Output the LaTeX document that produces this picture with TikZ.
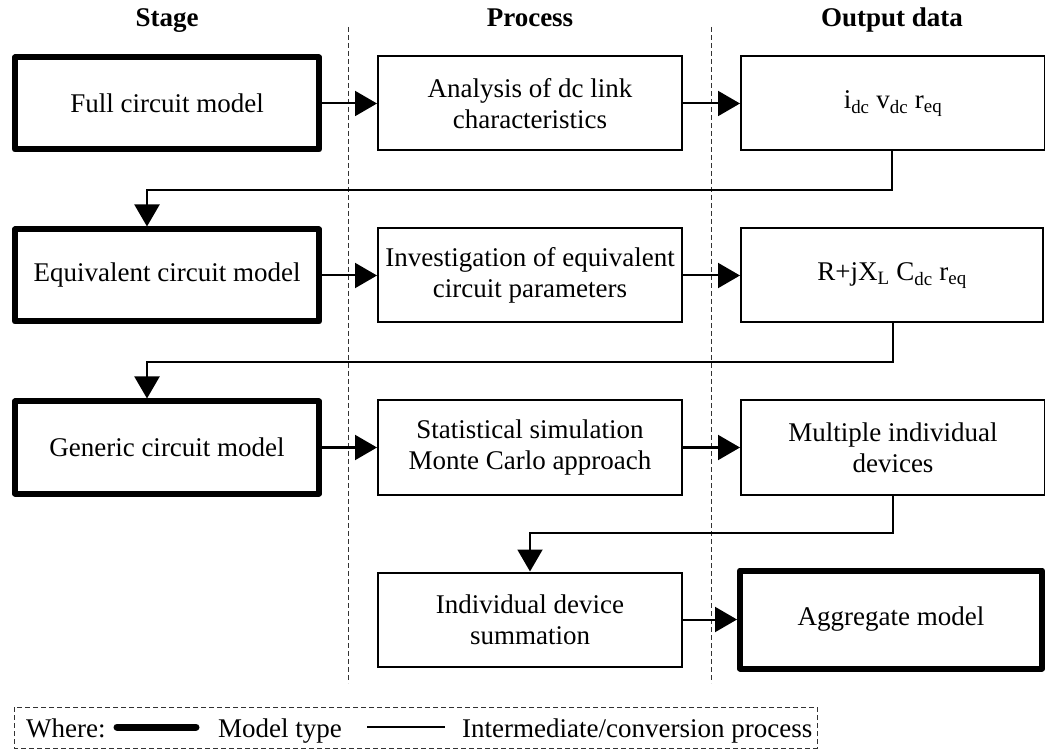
\documentclass[tikz,border=0pt]{standalone}
\usepackage{fontspec}
\setmainfont{Liberation Serif}
\usetikzlibrary{arrows.meta}
\begin{document}
\begin{tikzpicture}[x=1pt,y=-1pt,
  every node/.style={font=\fontsize{27}{31}\selectfont, align=center, inner sep=0pt},
  thickbox/.style={draw, line width=6pt, line join=round, minimum width=304pt, minimum height=92pt},
  thinbox/.style={draw, line width=2pt, minimum width=304pt, minimum height=94pt},
  hdr/.style={font=\fontsize{27}{31}\selectfont\bfseries, anchor=base},
  conn/.style={line width=2pt, -{Triangle[length=22pt,width=25pt]}},
  sepline/.style={draw=black!80, line width=1pt, dash pattern=on 5pt off 3pt},
  legtext/.style={anchor=base west}
]
\useasboundingbox (0,0) rectangle (1045,751);

% headers
\node[hdr] (hstage) at (167,27) {Stage};
\node[hdr] (hproc) at (530,27) {Process};
\node[hdr] (hout) at (892,27) {Output data};

% column separators
\coordinate (s1t) at (348,27); \coordinate (s1b) at (348,683);
\coordinate (s2t) at (711,27); \coordinate (s2b) at (711,683);
\draw[sepline] (s1t) -- (s1b);
\draw[sepline] (s2t) -- (s2b);

% row 1
\node[thickbox] (r1c1) at (167,103.5) {Full circuit model};
\node[thinbox] (r1c2) at (530,103.5) {Analysis of dc link\\characteristics};
\node[thinbox] (r1c3) at (893,103.5) {i\textsubscript{dc} v\textsubscript{dc} r\textsubscript{eq}};

% row 2
\node[thickbox] (r2c1) at (167,275.5) {Equivalent circuit model};
\node[thinbox] (r2c2) at (530,275.5) {Investigation of equivalent\\circuit parameters};
\node[thinbox, minimum width=302pt] (r2c3) at (892,275.5) {R+jX\textsubscript{L} C\textsubscript{dc} r\textsubscript{eq}};

% row 3
\node[thickbox] (r3c1) at (167,447.5) {Generic circuit model};
\node[thinbox] (r3c2) at (530,447.5) {Statistical simulation\\Monte Carlo approach};
\node[thinbox] (r3c3) at (893,447.5) {Multiple individual\\devices};

% row 4
\node[thinbox] (r4c2) at (530,619.5) {Individual device\\summation};
\node[thickbox, minimum width=302pt, minimum height=98pt] (r4c3) at (891,619.5) {Aggregate model};

% horizontal arrows
\draw[conn] (r1c1.east) -- (r1c2.west);
\draw[conn] (r1c2.east) -- (r1c3.west);
\draw[conn] (r2c1.east) -- (r2c2.west);
\draw[conn] (r2c2.east) -- (r2c3.west);
\draw[conn] (r3c1.east) -- (r3c2.west);
\draw[conn] (r3c2.east) -- (r3c3.west);
\draw[conn] (r4c2.east) -- (r4c3.west);

% return connectors
\coordinate (j1) at (892,190);
\coordinate (j2) at (893,362);
\coordinate (j3) at (893,533);
\coordinate (k1) at (147,0);
\draw[conn] (r1c3.south -| j1) -- (j1) -| (k1 |- r2c1.north);
\draw[conn] (r2c3.south -| j2) -- (j2) -| (k1 |- r3c1.north);
\draw[conn] (r3c3.south -| j3) -- (j3) -| (r4c2.north);

% legend
\coordinate (la) at (14,707); \coordinate (lb) at (817,748);
\draw[sepline] (la) rectangle (lb);
\node[legtext] (lw) at (26,737) {Where:};
\coordinate (t1a) at (117,727); \coordinate (t1b) at (196,727);
\draw[line width=7pt, line cap=round] (t1a) -- (t1b);
\node[legtext] (lm) at (218,737) {Model type};
\coordinate (t2a) at (367,727); \coordinate (t2b) at (445,727);
\draw[line width=2pt] (t2a) -- (t2b);
\node[legtext] (li) at (462,737) {Intermediate/conversion process};
\end{tikzpicture}
\end{document}
